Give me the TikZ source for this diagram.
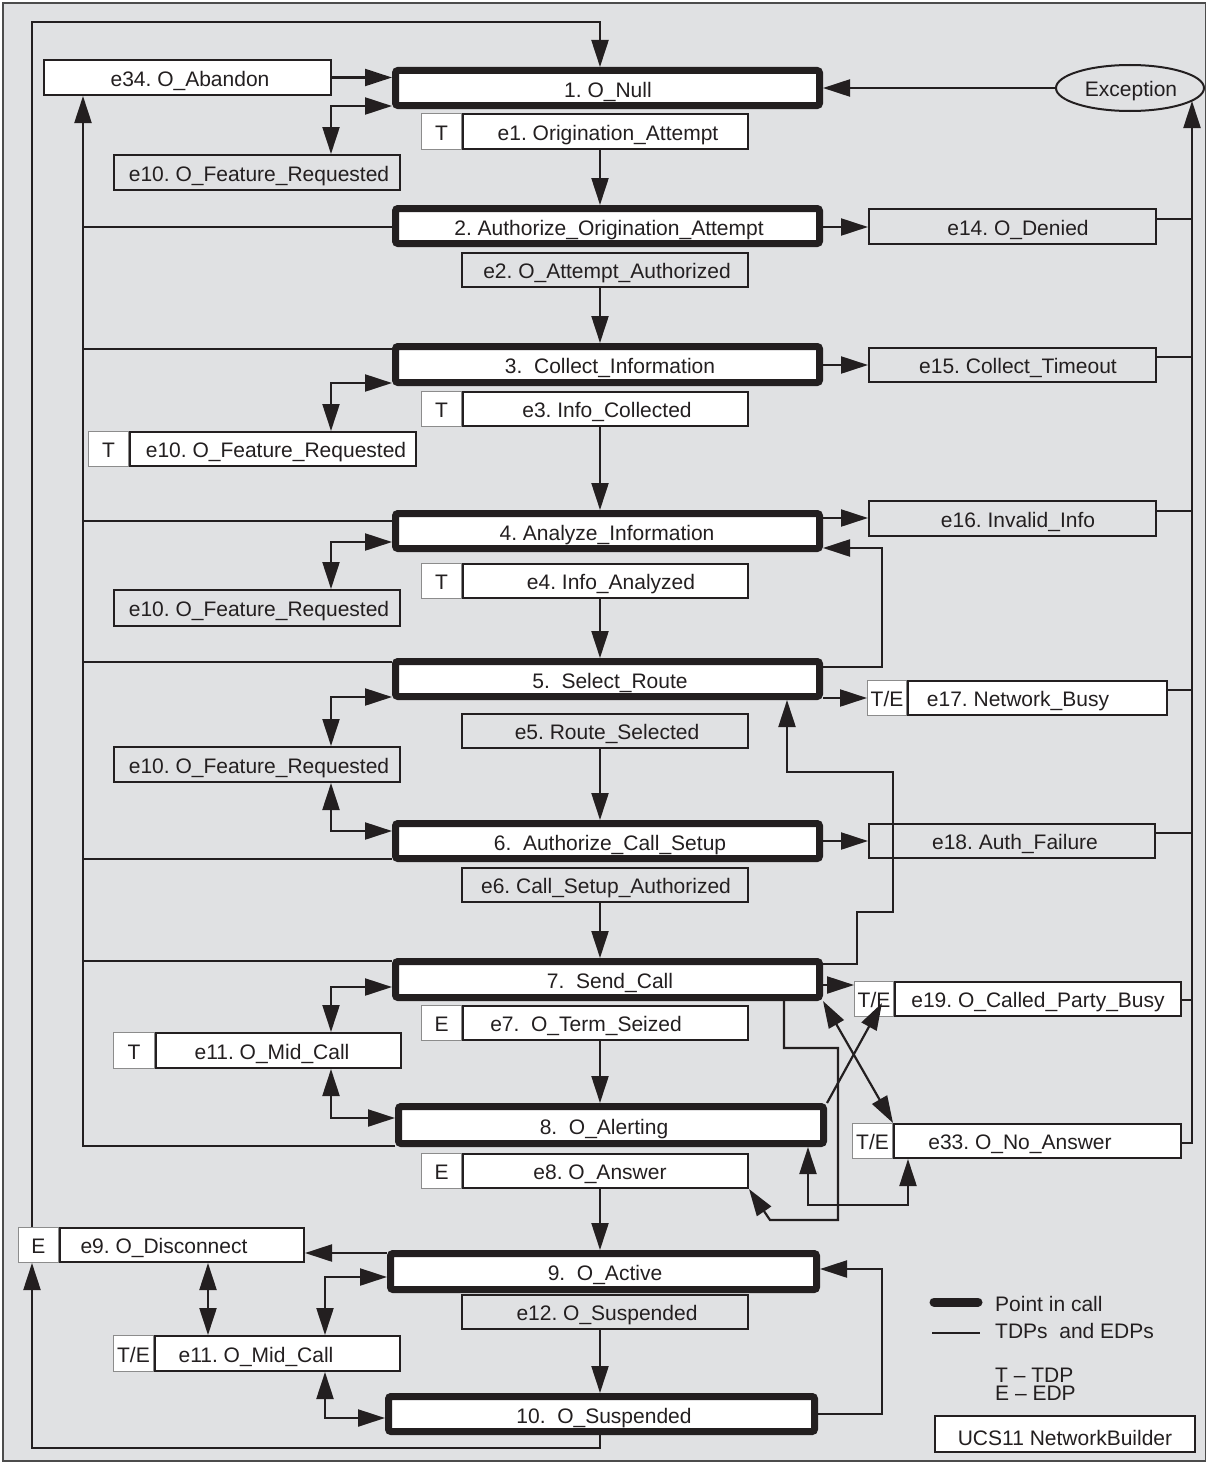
\documentclass[tikz,border=0pt]{standalone}
\usepackage{fontspec}
\setmainfont{Liberation Sans}
\usetikzlibrary{arrows.meta,shapes.geometric}
\definecolor{bg}{RGB}{224,225,227}
\definecolor{ink}{RGB}{35,31,32}
\tikzset{
 picbox/.style={draw=ink, fill=white, line width=7pt, rounded corners=2.5pt, inner sep=0pt},
 evbox/.style={draw=ink, line width=2pt, inner sep=0pt},
 cellbox/.style={draw=black!45, fill=white, line width=1pt, inner sep=0pt},
 lbl/.style={text=ink, inner sep=0pt, anchor=base},
 ln/.style={draw=ink, line width=2.2pt},
 ar/.style={ln, -{Triangle[length=27pt,width=17pt]}},
 arb/.style={ln, {Triangle[length=27pt,width=17pt]}-{Triangle[length=27pt,width=17pt]}},
 every node/.append style={font=\fontsize{21}{25}\selectfont\frenchspacing}
}
% name x1 y1 x2 y2 textx text
\newcommand{\PIC}[7]{%
 \node[picbox, minimum width={#4-#2-7}, minimum height={#5-#3-7}] (#1) at ({(#2+#4)/2},{(#3+#5)/2}) {};
 \node[lbl] (#1t) at (#6,{(#3+#5)/2+9}) {#7};}
% name x1 y1 x2 y2 fill textx text
\newcommand{\EV}[8]{%
 \node[evbox, fill=#6, minimum width={#4-#2-2}, minimum height={#5-#3-2}] (#1) at ({(#2+#4)/2},{(#3+#5)/2}) {};
 \node[lbl] (#1t) at (#7,{(#3+#5)/2+8.5}) {#8};}
% name x1 y1 xm x2 y2 cell textx text
\newcommand{\EVC}[9]{%
 \node[cellbox, minimum width={#4-#2-1}, minimum height={#6-#3-1}] (#1c) at ({(#2+#4)/2},{(#3+#6)/2}) {};
 \node[evbox, fill=white, minimum width={#5-#4-2}, minimum height={#6-#3-2}] (#1) at ({(#4+#5)/2},{(#3+#6)/2}) {};
 \node[lbl] (#1ct) at ({(#2+#4)/2},{(#3+#6)/2+8.5}) {#7};
 \node[lbl] (#1t) at (#8,{(#3+#6)/2+8.5}) {#9};}
\begin{document}
\begin{tikzpicture}[x=1pt,y=-1pt]
\useasboundingbox (0,0) rectangle (1207,1464);
\draw[draw=black!70, fill=bg, line width=1.2pt] (3,3) rectangle (1205.5,1461);

% helper coordinates
\coordinate (B1) at (32,0); \coordinate (B2) at (83,0); \coordinate (AX) at (600,0);
\coordinate (BR) at (1192,0); \coordinate (FC) at (331,0); \coordinate (X882) at (882,0);
\coordinate (X857) at (857,0); \coordinate (X893) at (893,0); \coordinate (X787) at (787,0);
\coordinate (X784) at (784,0); \coordinate (X838) at (838,0); \coordinate (X770) at (770,0);
\coordinate (X808) at (808,0); \coordinate (X908) at (908,0); \coordinate (X208) at (208,0);
\coordinate (X325) at (325,0);
\foreach \v in {22,101,106,219,227,349,357,365,383,511,518,521,542,548,662,667,690,697,698,772,831,833,841,859,912,961,964,985,987,1000,1048,1118,1143,1146,1205,1220,1253,1269,1277,1414,1418,1448}
  {\coordinate (Y\v) at (0,\v);}
\coordinate (T19) at (882,1003);

% points in call
\PIC{p1}{392}{67}{823}{109}{608}{1. O\_Null}
\PIC{p2}{392}{205}{823}{247}{609}{2. Authorize\_Origination\_Attempt}
\PIC{p3}{392}{343}{823}{386}{610}{3.~ Collect\_Information}
\PIC{p4}{392}{510}{823}{552}{607}{4. Analyze\_Information}
\PIC{p5}{392}{658}{823}{700}{610}{5.~ Select\_Route}
\PIC{p6}{392}{820}{823}{862}{610}{6.~ Authorize\_Call\_Setup}
\PIC{p7}{392}{958}{823}{1001}{610}{7.~ Send\_Call}
\PIC{p8}{395}{1103}{827}{1147}{604}{8.~ O\_Alerting}
\PIC{p9}{387}{1250}{820}{1293}{605}{9.~ O\_Active}
\PIC{p10}{385}{1393}{818}{1435}{604}{10.~ O\_Suspended}

% events
\EV{e34}{43}{59}{332}{96}{white}{190}{e34. O\_Abandon}
\EV{e10a}{113}{154}{401}{191}{none}{259}{e10. O\_Feature\_Requested}
\EVC{e1}{421}{113}{462}{749}{150}{T}{608}{e1. Origination\_Attempt}
\EV{e2}{461}{252}{749}{288}{none}{607}{e2. O\_Attempt\_Authorized}
\EV{e14}{868}{208}{1157}{245}{none}{1018}{e14. O\_Denied}
\EV{e15}{868}{347}{1157}{383}{none}{1018}{e15. Collect\_Timeout}
\EVC{e3}{421}{391}{462}{749}{427}{T}{607}{e3. Info\_Collected}
\EVC{e10b}{88}{431}{129}{417}{467}{T}{276}{e10. O\_Feature\_Requested}
\EV{e16}{868}{500}{1157}{537}{none}{1018}{e16. Invalid\_Info}
\EVC{e4}{421}{563}{462}{749}{599}{T}{611}{e4. Info\_Analyzed}
\EV{e10c}{113}{589}{401}{627}{none}{259}{e10. O\_Feature\_Requested}
\EVC{e17}{867}{680}{907}{1168}{716}{T/E}{1018}{e17. Network\_Busy}
\EV{e5}{461}{713}{749}{749}{none}{607}{e5. Route\_Selected}
\EV{e10d}{113}{746}{401}{783}{none}{259}{e10. O\_Feature\_Requested}
\EV{e18}{868}{823}{1156}{859}{none}{1015}{e18. Auth\_Failure}
\EV{e6}{461}{867}{749}{903}{none}{606}{e6. Call\_Setup\_Authorized}
\EVC{e19}{854}{981}{894}{1182}{1017}{T/E}{1038}{e19. O\_Called\_Party\_Busy}
\EVC{e7}{421}{1005}{462}{749}{1041}{E}{586}{e7.~ O\_Term\_Seized}
\EVC{e11a}{113}{1032}{155}{402}{1069}{T}{272}{e11. O\_Mid\_Call}
\EVC{e33}{852}{1123}{893}{1182}{1159}{T/E}{1020}{e33. O\_No\_Answer}
\EVC{e8}{421}{1153}{462}{749}{1189}{E}{600}{e8. O\_Answer}
\EVC{e9}{18}{1227}{59}{305}{1263}{E}{164}{e9. O\_Disconnect}
\EV{e12}{461}{1294}{749}{1330}{none}{607}{e12. O\_Suspended}
\EVC{e11b}{113}{1335}{154}{401}{1372}{T/E}{256}{e11. O\_Mid\_Call}

\node[ellipse, draw=ink, line width=2pt, minimum width=148, minimum height=46, inner sep=0pt] (exc) at (1130,88) {};
\node[lbl] (exct) at (1131,96) {Exception};

% left outer loop
\draw[ar] (B1 |- e9c.north) -- (B1 |- Y22) -- (AX |- Y22) -- (AX |- p1.north);
\draw[ar] (p8.west |- Y1146) -- (B2 |- Y1146) -- (B2 |- e34.south);
\draw[ln] (p2.west |- Y227) -- (B2 |- Y227);
\draw[ln] (p3.west |- Y349) -- (B2 |- Y349);
\draw[ln] (p4.west |- Y521) -- (B2 |- Y521);
\draw[ln] (p5.west |- Y662) -- (B2 |- Y662);
\draw[ln] (p6.west |- Y859) -- (B2 |- Y859);
\draw[ln] (p7.west |- Y961) -- (B2 |- Y961);

\draw[ar] (e34.east) -- (p1.west |- e34.east);
\draw[arb] (FC |- e10a.north) -- (FC |- Y106) -- (p1.west |- Y106);
\draw[arb] (FC |- e10b.north) -- (FC |- Y383) -- (p3.west |- Y383);
\draw[arb] (FC |- e10c.north) -- (FC |- Y542) -- (p4.west |- Y542);
\draw[arb] (FC |- e10d.north) -- (FC |- Y697) -- (p5.west |- Y697);
\draw[arb] (FC |- e10d.south) -- (FC |- Y831) -- (p6.west |- Y831);
\draw[arb] (FC |- e11a.north) -- (FC |- Y987) -- (p7.west |- Y987);
\draw[arb] (FC |- e11a.south) -- (FC |- Y1118) -- (p8.west |- Y1118);
\draw[ar] (p9.west |- Y1253) -- (e9.east |- Y1253);
\draw[arb] (X208 |- e9.south) -- (X208 |- e11b.north);
\draw[arb] (X325 |- e11b.north) -- (X325 |- Y1277) -- (p9.west |- Y1277);
\draw[arb] (X325 |- e11b.south) -- (X325 |- Y1418) -- (p10.west |- Y1418);
\draw[ar] (AX |- p10.south) -- (AX |- Y1448) -- (B1 |- Y1448) -- (B1 |- e9c.south);
\draw[ar] (p10.east |- Y1414) -- (X882 |- Y1414) -- (X882 |- Y1269) -- (p9.east |- Y1269);

% main axis
\draw[ar] (AX |- e1.south) -- (AX |- p2.north);
\draw[ar] (AX |- e2.south) -- (AX |- p3.north);
\draw[ar] (AX |- e3.south) -- (AX |- p4.north);
\draw[ar] (AX |- e4.south) -- (AX |- p5.north);
\draw[ar] (AX |- e5.south) -- (AX |- p6.north);
\draw[ar] (AX |- e6.south) -- (AX |- p7.north);
\draw[ar] (AX |- e7.south) -- (AX |- p8.north);
\draw[ar] (AX |- e8.south) -- (AX |- p9.north);
\draw[ar] (AX |- e12.south) -- (AX |- p10.north);

% right side
\draw[ar] (exc.west) -- (p1.east |- exc.west);
\draw[ar] (e33.east |- Y1143) -- (BR |- Y1143) -- (BR |- Y101);
\draw[ln] (e14.east |- Y219) -- (BR |- Y219);
\draw[ln] (e15.east |- Y357) -- (BR |- Y357);
\draw[ln] (e16.east |- Y511) -- (BR |- Y511);
\draw[ln] (e17.east |- Y690) -- (BR |- Y690);
\draw[ln] (e18.east |- Y833) -- (BR |- Y833);
\draw[ln] (e19.east |- Y1000) -- (BR |- Y1000);
\draw[ar] (p2.east |- Y227) -- (e14.west |- Y227);
\draw[ar] (p3.east |- Y365) -- (e15.west |- Y365);
\draw[ar] (p4.east |- Y518) -- (e16.west |- Y518);
\draw[ar] (p5.east |- Y667) -- (X882 |- Y667) -- (X882 |- Y548) -- (p4.east |- Y548);
\draw[ar] (p5.east |- Y698) -- (e17c.west |- Y698);
\draw[ar] (p6.east |- Y841) -- (e18.west |- Y841);
\draw[ar] (p7.east |- Y964) -- (X857 |- Y964) -- (X857 |- Y912) -- (X893 |- Y912) -- (X893 |- Y772) -- (X787 |- Y772) -- (X787 |- p5.south);
\draw[ar] (p7.east |- Y985) -- (e19c.west |- Y985);
\draw[arb] (p7.south east) -- (e33.north west);
\draw[ar] (p8.north east) -- (T19);
\draw[ar] (X784 |- p7.south) -- (X784 |- Y1048) -- (X838 |- Y1048) -- (X838 |- Y1220) -- (X770 |- Y1220) -- (e8.south east);
\draw[arb] (X808 |- p8.south) -- (X808 |- Y1205) -- (X908 |- Y1205) -- (X908 |- e33.south);

% legend
\draw[ink, line width=9pt, line cap=round] (934,1302) -- (978,1302);
\draw[ink, line width=2pt] (932,1333) -- (980,1333);
\node[lbl, anchor=base west] (lg1) at (995,1311) {Point in call};
\node[lbl, anchor=base west] (lg2) at (995,1338) {TDPs~ and EDPs};
\node[lbl, anchor=base west] (lg3) at (995,1382) {T – TDP};
\node[lbl, anchor=base west] (lg4) at (995,1400) {E – EDP};
\node[draw=ink, fill=white, line width=1.5pt, minimum width=260, minimum height=36, inner sep=0pt] (ucs) at (1065,1434) {};
\node[lbl] (ucst) at (1065,1445) {UCS11 NetworkBuilder};
\end{tikzpicture}
\end{document}
